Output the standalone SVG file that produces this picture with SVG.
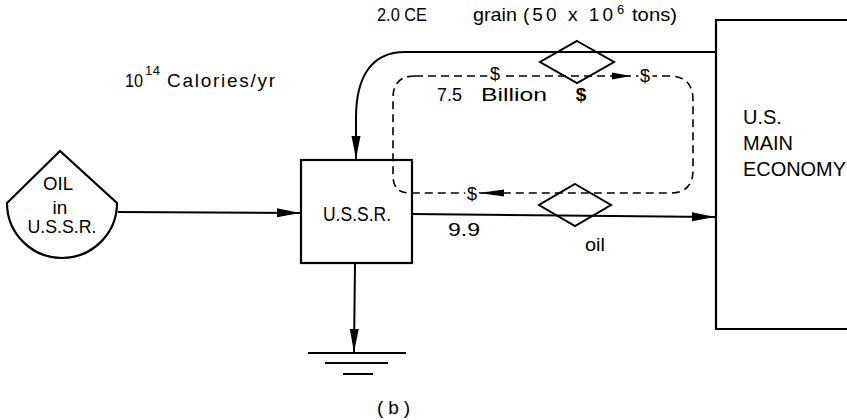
<svg xmlns="http://www.w3.org/2000/svg" width="847" height="420" viewBox="0 0 847 420">
<style>
  .ln{fill:none;stroke:#000;stroke-width:2}
  .dash{fill:none;stroke:#000;stroke-width:1.6;stroke-dasharray:8 5}
  .shape{fill:none;stroke:#000;stroke-width:2.2}
  .t{font-family:"Liberation Sans",Arial,sans-serif;font-size:19px;fill:#000}
  .big{font-size:20px}
  .sup{font-size:13px}
  .dol{font-size:18px}
  .halo{stroke:#fff;stroke-width:6;paint-order:stroke;stroke-linejoin:round}
  .ah{fill:#000;stroke:none}
</style>
<defs>
  <marker id="arr" markerUnits="userSpaceOnUse" markerWidth="24" markerHeight="10" refX="23" refY="5" orient="auto">
    <path d="M0,0.5 L23,5 L0,9.5 Z" fill="#000"/>
  </marker>
</defs>
<rect width="847" height="420" fill="#fff"/>

<g id="connectors">
  <path class="ln" d="M118 212 L300 213" marker-end="url(#arr)"/>
  <path class="ln" d="M716 52 L405 52 C372 52 356 76 356 118 L356 159" marker-end="url(#arr)"/>
  <path class="ln" d="M412 214 L715 217" marker-end="url(#arr)"/>
  <path class="ln" d="M355 263 L354 352" marker-end="url(#arr)"/>
  <path class="dash" d="M415 76 H669 Q693 76 693 100 V170 Q693 193 670 193 H410 Q393 193 393 176 V98 Q393 76 415 76 Z"/>
  <polygon class="ah" points="612,72.5 631,76 612,79.5"/>
  <polygon class="ah" points="479,193 504,189.5 504,196.5"/>
</g>

<g id="oil-source">
  <path class="shape" d="M7 203 L60 151 L117 203 A55 55 0 0 1 7 203 Z"/>
  <text class="t" x="58" y="190" text-anchor="middle" textLength="30" lengthAdjust="spacingAndGlyphs">OIL</text>
  <text class="t" x="60" y="214" text-anchor="middle">in</text>
  <text class="t" x="62" y="233" text-anchor="middle" textLength="69" lengthAdjust="spacingAndGlyphs">U.S.S.R.</text>
</g>

<g id="ussr">
  <rect class="shape" x="301" y="160" width="111" height="103"/>
  <text class="t big" x="357" y="221" text-anchor="middle" textLength="68" lengthAdjust="spacingAndGlyphs">U.S.S.R.</text>
</g>

<g id="us-economy">
  <path class="shape" d="M860 20 H716 V329 H860"/>
  <text class="t big" x="743" y="124">U.S.</text>
  <text class="t big" x="743" y="150">MAIN</text>
  <text class="t big" x="743" y="176" textLength="103" lengthAdjust="spacingAndGlyphs">ECONOMY</text>
</g>

<g id="grain-transaction">
  <path class="ln" d="M577 41 L614 62 L577 83 L540 62 Z"/>
</g>

<g id="oil-transaction">
  <path class="ln" d="M575 184 L611 205 L575 226 L539 205 Z"/>
</g>

<g id="heat-sink">
  <path class="ln" d="M308 353 H406 M325 363 H388 M343 374 H373"/>
</g>

<g id="labels">
  <text class="t" x="125" y="87" textLength="18" lengthAdjust="spacingAndGlyphs">10</text>
  <text class="t sup" x="145" y="75" textLength="15" lengthAdjust="spacing">14</text>
  <text class="t" x="167" y="87" textLength="108" lengthAdjust="spacing">Calories/yr</text>

  <text class="t" x="377" y="21" textLength="50" lengthAdjust="spacingAndGlyphs">2.0 CE</text>
  <text class="t" x="473" y="21" textLength="44" lengthAdjust="spacingAndGlyphs">grain</text>
  <text class="t" x="523" y="21" textLength="90" lengthAdjust="spacing">(50 x 10</text>
  <text class="t sup" x="617" y="14">6</text>
  <text class="t" x="632" y="21" textLength="45" lengthAdjust="spacingAndGlyphs">tons)</text>

  <text class="t dol halo" x="495" y="80" text-anchor="middle">$</text>
  <text class="t dol halo" x="645" y="82" text-anchor="middle">$</text>
  <text class="t" x="437" y="101" font-size="18" textLength="25" lengthAdjust="spacingAndGlyphs">7.5</text>
  <text class="t" x="481" y="101" font-size="18" textLength="66" lengthAdjust="spacingAndGlyphs">Billion</text>
  <text class="t" x="581" y="101" font-size="18" text-anchor="middle" font-weight="bold">$</text>

  <text class="t dol halo" x="472" y="200" text-anchor="middle">$</text>
  <text class="t" x="448" y="236" textLength="32" lengthAdjust="spacingAndGlyphs">9.9</text>
  <text class="t" x="585" y="251" textLength="20" lengthAdjust="spacingAndGlyphs">oil</text>

  <text class="t" x="377" y="414" textLength="33" lengthAdjust="spacing">(b)</text>
</g>
</svg>
